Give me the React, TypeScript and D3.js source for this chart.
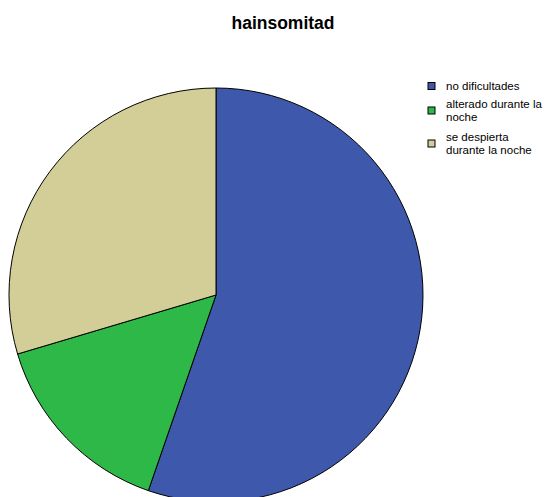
import React from "react";
import * as d3 from "d3";

const title = "hainsomitad";
const categories = ["no dificultades", "alterado durante la noche", "se despierta durante la noche"];
const legendLines = [["no dificultades"], ["alterado durante la", "noche"], ["se despierta", "durante la noche"]];
const values = [55.3, 15.1, 29.6];
const colors = ["#3e58ac", "#2eb848", "#d3ce97"];

export default function App() {
  const W = 548, H = 497;
  const cx = 216, cy = 295, r = 207;
  const pie = d3.pie<number>().sort(null).value((d) => d)(values);
  const arc = d3.arc<d3.PieArcDatum<number>>().innerRadius(0).outerRadius(r);
  const legendY = [86, 110.5, 143.5];
  return (
    <svg width={W} height={H} style={{ position: "absolute", left: 0, top: 0, display: "block" }}
      fontFamily="Arial, 'Liberation Sans', sans-serif">
      <rect width={W} height={H} fill="#fff" />
      <text x={283} y={29} textAnchor="middle" fontSize={17.5} fontWeight="bold">{title}</text>
      <g transform={`translate(${cx},${cy})`}>
        {pie.map((p, i) => (
          <path key={categories[i]} d={arc(p) || ""} fill={colors[i]} stroke="#000" strokeWidth={1} />
        ))}
      </g>
      {legendLines.map((lines, i) => {
        const yc = legendY[i];
        const n = lines.length;
        return (
          <g key={i}>
            <rect x={428} y={yc - 3.5} width={7} height={7} fill={colors[i]} stroke="#000" strokeWidth={1} />
            {lines.map((l, j) => (
              <text key={j} x={446} y={yc + (j - (n - 1) / 2) * 13.5 + 4} fontSize={11.5}>{l}</text>
            ))}
          </g>
        );
      })}
    </svg>
  );
}
